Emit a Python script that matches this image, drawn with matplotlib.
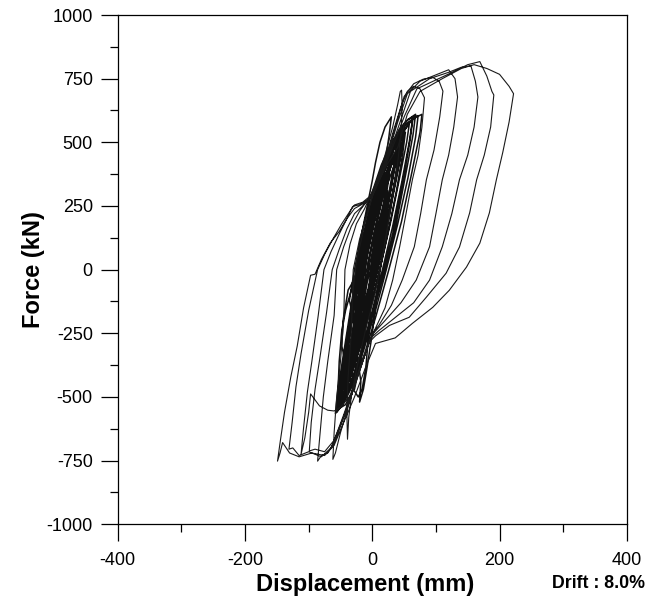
import numpy as np
import matplotlib
matplotlib.use("Agg")
import matplotlib.pyplot as plt
from matplotlib.ticker import MultipleLocator

plt.rcParams['font.family'] = ['Liberation Sans', 'DejaVu Sans']
plt.rcParams['axes.unicode_minus'] = False

#%% data: (displacement mm, force kN) per cycle
# small cycles forming the dense core
core_1 = [(0, 0), (5, 80), (10, 150), (9, 110), (5, 40), (-2, -30), (-10, -110), (-15, -160), (-13, -120), (-8, -50), (-3, 0)]
core_2 = [(2, 60), (10, 170), (16, 230), (14, 180), (8, 80), (2, 0), (-8, -100), (-18, -200), (-22, -240), (-19, -180), (-13, -90), (-6, 0)]
core_3 = [(0, 70), (10, 190), (20, 280), (24, 310), (22, 250), (15, 150), (6, 30), (-5, -90), (-16, -200), (-26, -290),
          (-29, -320), (-25, -250), (-18, -150), (-10, -30)]
core_4 = [(-4, 60), (8, 200), (20, 310), (30, 380), (33, 400), (30, 330), (22, 210), (12, 80), (0, -60), (-13, -180),
          (-25, -300), (-34, -380), (-37, -400), (-32, -320), (-24, -200), (-15, -60)]
core_5 = [(-8, 50), (5, 200), (18, 320), (30, 410), (40, 460), (42, 470), (38, 390), (28, 250), (15, 90), (3, -50),
          (-12, -190), (-26, -320), (-38, -420), (-42, -450), (-37, -370), (-28, -240), (-18, -80)]
core_6 = [(-10, 40), (3, 190), (17, 330), (32, 440), (45, 510), (52, 540), (48, 460), (38, 310), (25, 150), (10, -20),
          (-5, -170), (-20, -310), (-34, -420), (-45, -490), (-48, -510), (-44, -430), (-33, -280), (-22, -110)]
core_7 = [(-14, 30), (0, 190), (16, 340), (32, 460), (48, 540), (60, 580), (63, 585), (58, 500), (46, 340), (32, 170),
          (16, 0), (0, -160), (-16, -310), (-32, -430), (-46, -510), (-53, -540), (-50, -460), (-40, -310), (-28, -130)]
core_8 = [(-18, 20), (-3, 190), (14, 350), (32, 480), (50, 560), (66, 600), (72, 605), (68, 520), (56, 360), (40, 180),
          (22, 0), (4, -170), (-14, -320), (-32, -450), (-48, -530), (-56, -560), (-52, -480), (-42, -320), (-30, -140)]
core_9 = [(-20, 10), (-5, 190), (12, 350), (32, 490), (52, 570), (70, 600), (78, 610), (75, 540), (62, 380), (46, 190),
          (26, 0), (6, -180), (-12, -330), (-30, -450), (-46, -530), (-58, -565), (-54, -470), (-44, -310), (-32, -120)]
core_10 = [(-24, 0), (-10, 160), (6, 320), (22, 440), (38, 520), (50, 560), (47, 480), (36, 340), (22, 170), (8, 0),
           (-8, -160), (-22, -300), (-36, -410), (-48, -480), (-45, -400), (-36, -260), (-26, -100)]
core_11 = [(-16, 20), (-2, 170), (12, 300), (26, 400), (36, 450), (33, 380), (24, 250), (12, 100), (0, -50), (-14, -200),
           (-28, -330), (-40, -430), (-44, -460), (-40, -380), (-30, -240), (-20, -70)]
core_12 = [(-12, 0), (-4, 120), (4, 230), (9, 260), (14, 330), (20, 380), (24, 370), (28, 430), (26, 360), (20, 260),
           (14, 150), (8, 60), (2, -40), (-5, -130), (-12, -210), (-18, -270), (-24, -340), (-30, -380), (-33, -420),
           (-31, -350), (-27, -280), (-22, -180), (-16, -90)]
core_13 = [(-18, -20), (-10, 90), (-2, 200), (6, 270), (12, 320), (20, 400), (28, 450), (36, 500), (42, 520), (40, 450),
           (34, 380), (28, 300), (20, 200), (12, 100), (4, 0), (-4, -100), (-12, -180), (-20, -260), (-28, -340),
           (-36, -420), (-40, -470), (-44, -500), (-42, -420), (-36, -330), (-30, -230), (-24, -120)]
core_14 = [(-22, -40), (-14, 80), (-6, 180), (4, 280), (14, 360), (24, 420), (34, 480), (44, 520), (54, 560), (58, 570),
           (54, 500), (46, 400), (38, 300), (30, 200), (20, 90), (10, -20), (0, -120), (-10, -220), (-20, -310),
           (-30, -390), (-40, -460), (-50, -520), (-54, -540), (-50, -460), (-44, -370), (-36, -250), (-28, -130)]
core_15 = [(-26, -30), (-18, 80), (-8, 190), (2, 290), (12, 380), (22, 450), (32, 500), (42, 550), (52, 580), (62, 600),
           (68, 610), (64, 530), (56, 420), (46, 290), (36, 160), (24, 40), (12, -70), (0, -180), (-12, -290),
           (-24, -380), (-36, -460), (-46, -520), (-56, -555), (-52, -470), (-46, -380), (-40, -270), (-32, -140)]
core_16 = [(-6, 30), (2, 130), (10, 220), (16, 290), (22, 340), (20, 280), (16, 210), (10, 120), (4, 40), (-2, -50),
           (-10, -140), (-18, -220), (-24, -290), (-22, -230), (-16, -150), (-10, -50)]
core_17 = [(-14, 10), (-6, 120), (4, 230), (14, 320), (24, 390), (34, 440), (38, 455), (34, 390), (28, 300), (20, 190),
           (12, 80), (2, -40), (-8, -150), (-18, -250), (-28, -340), (-36, -410), (-40, -440), (-36, -360), (-30, -260),
           (-22, -140)]
core_18 = [(-20, 0), (-10, 130), (0, 240), (12, 340), (24, 420), (36, 490), (46, 530), (50, 545), (46, 470), (38, 360),
           (28, 230), (18, 110), (8, -10), (-4, -130), (-16, -250), (-28, -360), (-40, -450), (-48, -510), (-50, -520),
           (-46, -440), (-38, -320), (-30, -170)]
core_19 = [(-10, 40), (0, 160), (10, 260), (20, 340), (30, 410), (40, 470), (44, 480), (40, 410), (32, 300), (22, 180),
           (12, 60), (2, -60), (-8, -170), (-18, -270), (-28, -360), (-36, -430), (-38, -440), (-34, -360), (-26, -240),
           (-18, -110)]
core_20 = [(-24, -10), (-14, 110), (-4, 230), (8, 340), (20, 430), (32, 500), (44, 550), (56, 590), (64, 600), (60, 520),
           (52, 400), (42, 270), (32, 140), (20, 20), (8, -100), (-4, -210), (-16, -320), (-28, -410), (-40, -490),
           (-50, -540), (-54, -550), (-50, -470), (-42, -350), (-34, -200)]
core_21 = [(-22, 0), (-12, 140), (0, 270), (14, 380), (28, 470), (40, 530), (48, 560), (44, 480), (36, 350), (26, 200),
           (16, 60), (8, -80), (0, -250), (-8, -380), (-14, -470), (-20, -520), (-18, -440), (-24, -330), (-30, -190)]
core_22 = [(-30, -100), (-20, 100), (-8, 250), (0, 350), (5, 420), (12, 500), (20, 560), (30, 600), (26, 520), (20, 420),
           (14, 310), (8, 200), (2, 80), (-4, -40), (-10, -180), (-16, -300), (-22, -400), (-28, -470), (-26, -380),
           (-28, -260), (-26, -120)]
core_23 = [(-28, -60), (-16, 120), (0, 280), (16, 400), (30, 480), (40, 520), (36, 440), (26, 300), (14, 140), (4, 0),
           (-2, -120), (-6, -260), (-10, -380), (-16, -470), (-22, -500), (-30, -470), (-40, -390), (-48, -300),
           (-46, -200), (-38, -80)]
core_24 = [(-36, -120), (-28, 0), (-16, 150), (-2, 290), (14, 410), (30, 500), (36, 520), (30, 430), (20, 290), (10, 140),
           (0, 0), (-6, -130), (-12, -260), (-20, -380), (-30, -470), (-42, -530), (-52, -545), (-54, -480), (-52, -360),
           (-48, -240), (-42, -160)]

# large cycles
large_1 = [(-25, 30), (-10, 200), (5, 330), (20, 450), (32, 560), (40, 650), (44, 700), (46, 705), (47, 640), (45, 540),
           (40, 420), (30, 260), (18, 80), (5, -90), (-10, -230), (-22, -360), (-32, -480), (-37, -580), (-39, -666),
           (-40, -560), (-38, -420), (-33, -250), (-30, 0), (-20, 120), (-8, 220)]
large_2 = [(5, 330), (20, 430), (35, 560), (45, 640), (55, 700), (65, 720), (75, 710), (82, 675), (78, 560), (72, 450),
           (63, 353), (53, 220), (43, 90), (32, -41), (20, -150), (5, -230), (-10, -320), (-25, -430), (-38, -540),
           (-50, -640), (-58, -720), (-62, -745), (-60, -640), (-56, -500), (-50, -360), (-45, -200), (-43, 0),
           (-35, 100), (-25, 180), (-12, 240)]
large_3 = [(2, 320), (20, 420), (35, 550), (50, 680), (65, 730), (80, 748), (95, 755), (105, 740), (111, 701), (106, 600),
           (97, 470), (85, 353), (76, 220), (66, 90), (47, -41), (30, -140), (10, -220), (0, -250), (-15, -360),
           (-30, -470), (-45, -580), (-58, -670), (-70, -720), (-80, -730), (-86, -752), (-82, -640), (-77, -500),
           (-70, -360), (-60, -180), (-56, 0), (-45, 90), (-33, 170), (-20, 230)]
large_4 = [(0, 300), (15, 380), (28, 480), (40, 580), (55, 690), (75, 740), (100, 765), (120, 785), (130, 750), (134, 678),
           (128, 560), (120, 450), (110, 353), (100, 220), (90, 90), (69, -41), (45, -130), (20, -200), (0, -255),
           (-15, -350), (-30, -460), (-45, -570), (-60, -670), (-75, -715), (-90, -705), (-99, -712), (-96, -600),
           (-90, -470), (-82, -340), (-72, -170), (-63, 0), (-52, 80), (-40, 160), (-28, 220), (-15, 250)]
large_5 = [(0, 290), (15, 380), (30, 480), (45, 590), (60, 700), (90, 750), (120, 775), (140, 795), (155, 800), (162, 740),
           (166, 678), (160, 560), (150, 450), (137, 353), (125, 220), (110, 90), (90, -41), (65, -130), (35, -190),
           (10, -240), (-3, -270), (-18, -380), (-33, -490), (-50, -540), (-60, -555), (-70, -552), (-83, -535),
           (-97, -488), (-100, -560), (-106, -660), (-112, -725), (-108, -620), (-102, -480), (-95, -360), (-85, -180),
           (-76, 0), (-65, 70), (-52, 140), (-40, 200), (-28, 240), (-15, 258)]
large_6 = [(0, 290), (18, 390), (35, 500), (50, 600), (70, 710), (100, 745), (130, 780), (150, 805), (169, 817), (180, 760),
           (188, 700), (191, 686), (186, 560), (176, 450), (164, 353), (153, 223), (137, 89), (116, -14), (85, -108),
           (58, -187), (27, -219), (5, -260), (-5, -285), (-20, -400), (-35, -510), (-50, -610), (-65, -700),
           (-80, -735), (-100, -715), (-115, -730), (-125, -700), (-131, -705), (-126, -600), (-120, -460),
           (-112, -330), (-100, -160), (-86, 0), (-75, 60), (-62, 120), (-48, 180), (-35, 230), (-28, 254), (-15, 265)]
large_7 = [(2, 300), (20, 400), (40, 480), (55, 610), (75, 700), (110, 750), (140, 790), (160, 805), (180, 790), (200, 767),
           (215, 720), (222, 691), (215, 580), (205, 460), (195, 353), (184, 223), (169, 104), (148, 10), (121, -81),
           (95, -148), (63, -211), (36, -268), (5, -290), (-10, -380), (-28, -500), (-45, -600), (-60, -690),
           (-75, -730), (-95, -720), (-115, -735), (-130, -720), (-141, -679), (-145, -720), (-149, -752),
           (-145, -680), (-138, -560), (-128, -420), (-118, -300), (-108, -150), (-97, -22), (-90, -18), (-80, 40),
           (-66, 105), (-52, 150), (-40, 200), (-31, 248), (-20, 255), (-10, 270)]

core_cycles = [core_1, core_2, core_16, core_3, core_12, core_4, core_11, core_17, core_5, core_19, core_13, core_23,
               core_6, core_18, core_21, core_24, core_10, core_22, core_14, core_7, core_20, core_15, core_8, core_9]
large_cycles = [large_1, large_2, large_3, large_4, large_5, large_6, large_7]

#%% join the cycles into two traces
core = np.array([p for c in core_cycles for p in c], dtype=float)
large = np.array([core[-1]] + [p for c in large_cycles for p in c], dtype=float)

#%% plot
fig = plt.figure(figsize=(6.6, 6.1), dpi=100)
ax = fig.add_axes([0.1785, 0.1405, 0.7712, 0.8349])

ax.plot(core[:, 0], core[:, 1], color='#111111', linewidth=1.1)
ax.plot(large[:, 0], large[:, 1], color='#1a1a1a', linewidth=0.8)

ax.set_xlim(-400, 400)
ax.set_ylim(-1000, 1000)
ax.xaxis.set_major_locator(MultipleLocator(200))
ax.xaxis.set_minor_locator(MultipleLocator(100))
ax.yaxis.set_major_locator(MultipleLocator(250))
ax.yaxis.set_minor_locator(MultipleLocator(125))
ax.tick_params(which='major', direction='out', length=12, width=0.9, labelsize=13, pad=6)
ax.tick_params(which='minor', direction='out', length=6, width=0.9)
ax.tick_params(axis='x', pad=8)
for s in ax.spines.values():
    s.set_linewidth(0.9)

ax.set_xlabel('Displacement (mm)', fontsize=17, fontweight='bold', labelpad=3)
ax.xaxis.set_label_coords(0.486, -0.095)
ax.set_ylabel('Force (kN)', fontsize=17, fontweight='bold', labelpad=1)
fig.text(0.977, 0.043, 'Drift : 8.0%', ha='right', va='center', fontsize=12.8, fontweight='bold')

fig.savefig('out.png', dpi=100)
